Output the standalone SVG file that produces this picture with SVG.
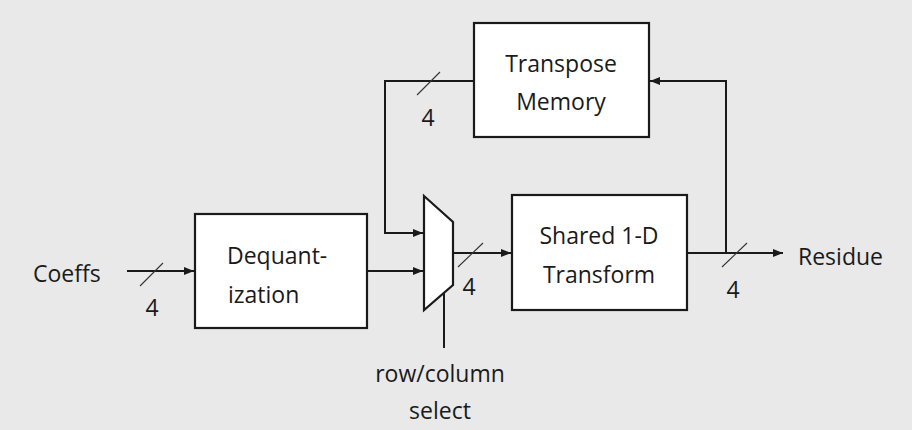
<svg xmlns="http://www.w3.org/2000/svg" width="912" height="430" viewBox="0 0 912 430">
<style>
.box{fill:#fff;stroke:#1a1a1a;stroke-width:2.2}
.w{fill:none;stroke:#1a1a1a;stroke-width:2}
.sl{fill:none;stroke:#333;stroke-width:1.1}
text{font-family:"Open Sans","Noto Sans",sans-serif;font-size:23px;fill:#1a1a1a}
.c{text-anchor:middle}
</style>
<defs>
<marker id="ah" viewBox="0 0 10 8" refX="10" refY="4" markerWidth="10" markerHeight="8" markerUnits="userSpaceOnUse" orient="auto">
<path d="M0,0 L10,4 L0,8 z" fill="#1a1a1a"/>
</marker>
</defs>
<rect width="912" height="430" fill="#e9e9e9"/>
<g id="connectors">
<path class="w" d="M127,271 H194" marker-end="url(#ah)"/>
<path class="w" d="M367,271 H423" marker-end="url(#ah)"/>
<path class="w" d="M474,81 H385 V233 H423" marker-end="url(#ah)"/>
<path class="w" d="M453,253 H511" marker-end="url(#ah)"/>
<path class="w" d="M687,253 H783" marker-end="url(#ah)"/>
<path class="w" d="M726,253 V81 H650" marker-end="url(#ah)"/>
<path class="w" d="M444,293 V348"/>
<line class="sl" x1="140" y1="286" x2="163" y2="263"/>
<line class="sl" x1="417" y1="95" x2="440" y2="72"/>
<line class="sl" x1="458" y1="267" x2="483" y2="243"/>
<line class="sl" x1="722" y1="267" x2="747" y2="243"/>
<text x="152" y="316" class="c">4</text>
<text x="428" y="126" class="c">4</text>
<text x="469" y="295" class="c">4</text>
<text x="733" y="298" class="c">4</text>
</g>
<g id="coeffs"><text x="33" y="282">Coeffs</text></g>
<g id="residue"><text x="798" y="265">Residue</text></g>
<g id="dequant">
<rect class="box" x="195" y="214" width="172" height="114"/>
<text x="227" y="264">Dequant-</text>
<text x="228" y="303">ization</text>
</g>
<g id="transpose">
<rect class="box" x="474" y="23" width="175" height="114"/>
<text x="561" y="72" class="c">Transpose</text>
<text x="561" y="110" class="c">Memory</text>
</g>
<g id="mux">
<polygon class="box" points="424,196 453,222 453,285 424,310"/>
</g>
<g id="transform">
<rect class="box" x="512" y="195" width="175" height="115"/>
<text x="599" y="244" class="c">Shared 1-D</text>
<text x="599" y="283" class="c">Transform</text>
</g>
<g id="select">
<text x="440" y="382" class="c">row/column</text>
<text x="440" y="419" class="c">select</text>
</g>
</svg>
